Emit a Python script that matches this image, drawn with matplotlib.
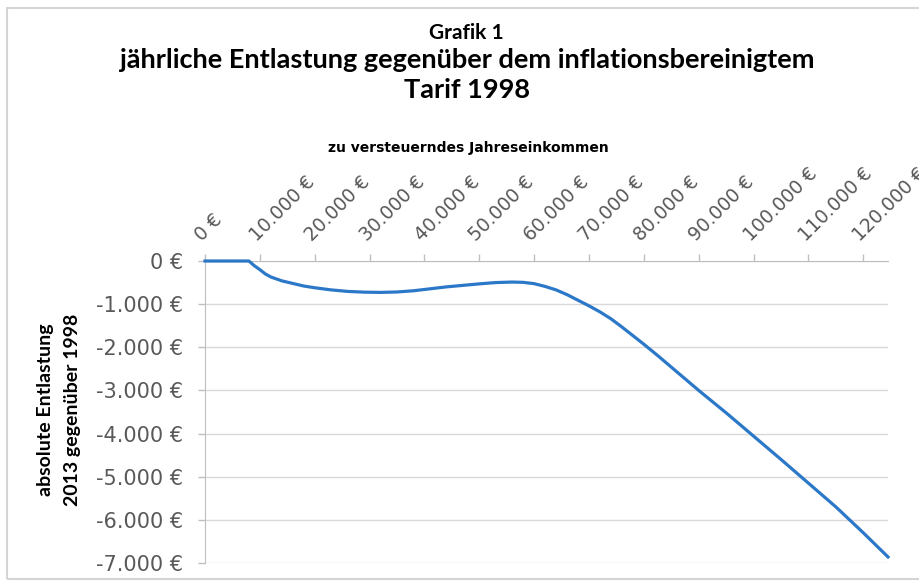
import matplotlib
matplotlib.use('Agg')
import matplotlib.pyplot as plt
from matplotlib.patches import Rectangle
from matplotlib.ticker import FuncFormatter

# zu versteuerndes Jahreseinkommen (EUR) und Entlastung 2013 ggü. Tarif 1998 (EUR)
einkommen = [0, 8000, 9000, 10000, 11000, 12000, 14000, 16000, 18000, 20000,
             23000, 26000, 29000, 32000, 35000, 38000, 41000, 44000, 47000, 50000,
             53000, 56000, 58000, 60000, 62000, 64000, 66000, 68000, 70000, 72000,
             74000, 76000, 78000, 80000, 82500, 85000, 87500, 90000, 95000, 100000,
             105000, 110000, 115000, 120000, 124500]
entlastung = [0, 0, -110, -200, -300, -370, -460, -520, -580, -620,
              -670, -705, -722, -728, -718, -690, -645, -600, -565, -530,
              -500, -488, -495, -525, -590, -670, -780, -910, -1040, -1180,
              -1340, -1530, -1730, -1930, -2190, -2460, -2730, -3000, -3520, -4060,
              -4600, -5150, -5700, -6300, -6860]

x_ticks = list(range(0, 120001, 10000))
y_ticks = list(range(-7000, 1, 1000))

plt.rcParams['font.family'] = ['DejaVu Sans']
title_font = ['Lato', 'DejaVu Sans']


def euro(v, pos=None):
    return f"{v:,.0f} €".replace(",", ".")


fig = plt.figure(figsize=(9.19, 5.83), dpi=100)
ax = fig.add_axes([205 / 919, 20 / 583, 683 / 919, 302 / 583])

ax.plot(einkommen, entlastung, color='#2b78c8', lw=2.3, clip_on=False, zorder=3)
ax.set_xlim(0, 124500)
ax.set_ylim(-7000, 0)

# Kategorienachse oben bei 0, Beschriftung beginnt am Teilstrich
ax.xaxis.tick_top()
ax.set_xticks(x_ticks)
ax.set_xticklabels([euro(v) for v in x_ticks])
ax.tick_params(axis='x', direction='out', length=5, width=1, color='#bfbfbf',
               labelsize=13.5, labelcolor='#595959', pad=7)
for lbl in ax.get_xticklabels():
    lbl.set_rotation(45)
    lbl.set_rotation_mode('anchor')
    lbl.set_ha('left')
    lbl.set_va('bottom')

ax.set_yticks(y_ticks)
ax.yaxis.set_major_formatter(FuncFormatter(euro))
ax.tick_params(axis='y', direction='out', length=5, width=1, color='#bfbfbf',
               labelsize=15, labelcolor='#595959', pad=11)

for s in ['bottom', 'right']:
    ax.spines[s].set_visible(False)
for s in ['top', 'left']:
    ax.spines[s].set_color('#bfbfbf')
ax.yaxis.grid(True, color='#d9d9d9', lw=1)
ax.set_axisbelow(True)

# Titel
fig.text(466 / 919, 1 - 33 / 583, 'Grafik 1', ha='center', va='center',
         fontsize=15, fontweight='bold', family=title_font)
fig.text(467 / 919, 1 - 60 / 583,
         'jährliche Entlastung gegenüber dem inflationsbereinigtem',
         ha='center', va='center', fontsize=19.5, fontweight='bold', family=title_font)
fig.text(467 / 919, 1 - 90 / 583, 'Tarif 1998',
         ha='center', va='center', fontsize=19.5, fontweight='bold', family=title_font)
fig.text(468 / 919, 1 - 148 / 583, 'zu versteuerndes Jahreseinkommen', ha='center',
         va='center', fontsize=10, fontweight='bold')
fig.text(59 / 919, 1 - 410 / 583, 'absolute Entlastung\n2013 gegenüber 1998',
         rotation=90, ha='center', va='center', fontsize=14, fontweight='bold',
         family=title_font, linespacing=1.75, multialignment='center')

# Rahmen des Diagrammbereichs
fig.patches.append(Rectangle((7 / 919, 4 / 583), 930 / 919, 571 / 583,
                             transform=fig.transFigure, fill=False,
                             edgecolor='#d4d4d4', lw=1.5))

fig.savefig('out.png', dpi=100)
